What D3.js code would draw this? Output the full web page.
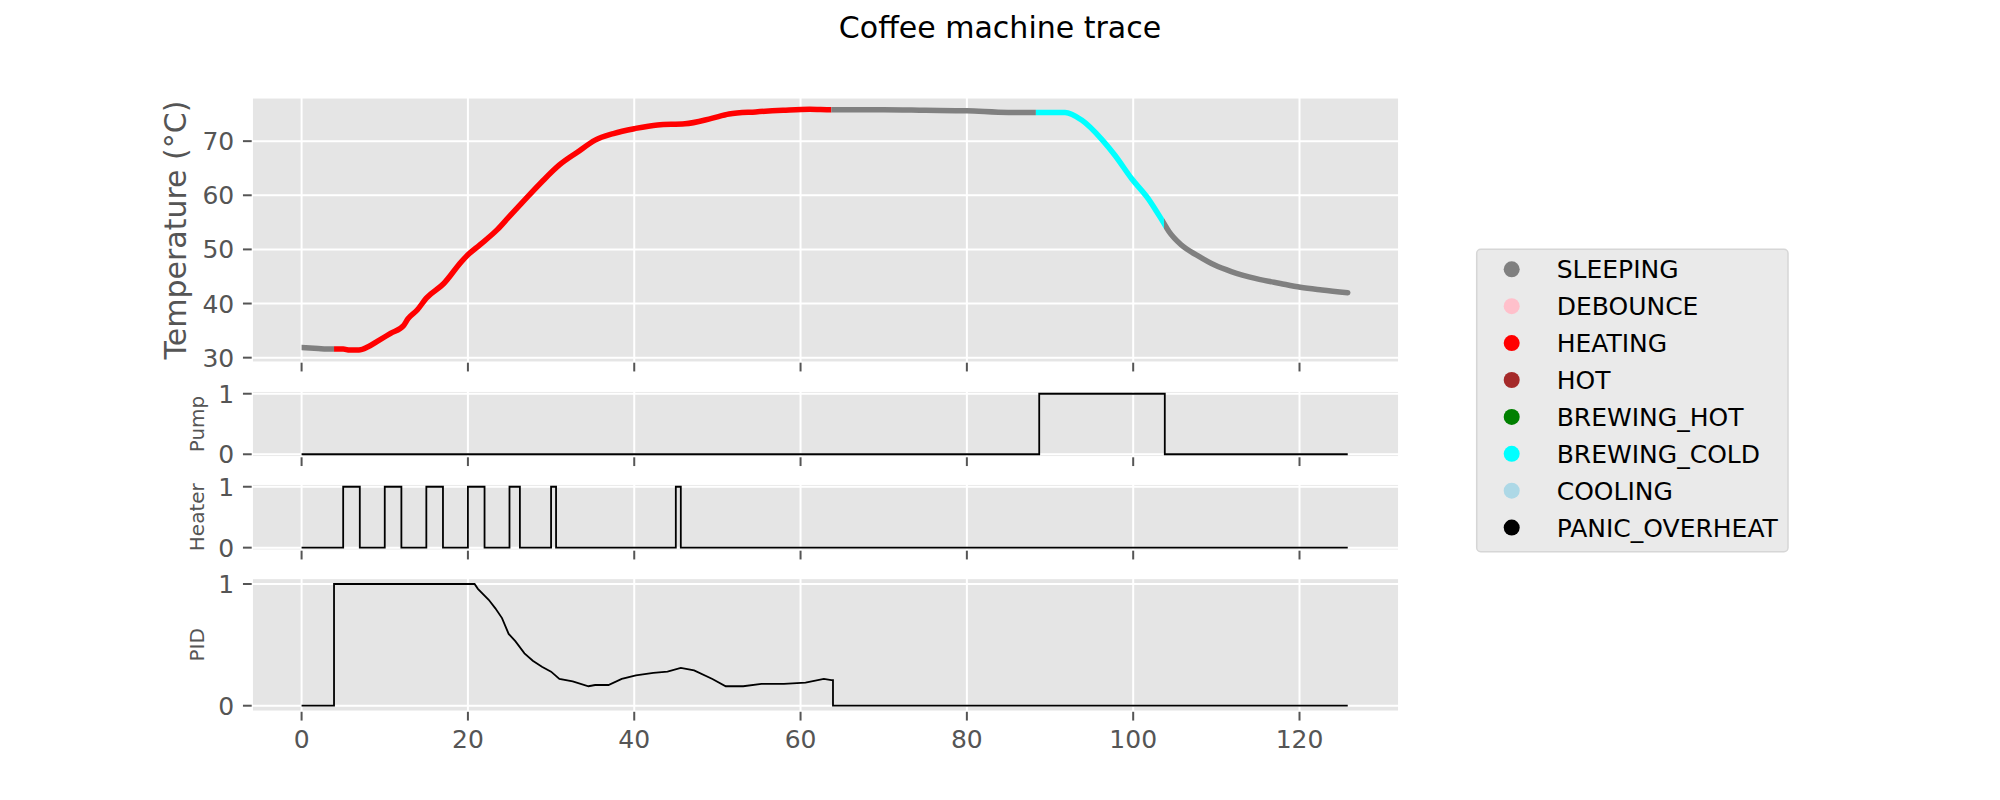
<!DOCTYPE html>
<html>
<head>
<meta charset="utf-8">
<script src="https://cdn.jsdelivr.net/npm/d3@7"></script>
<style>
  body { margin: 0; background: #fff; }
  svg { font-family: "DejaVu Sans", sans-serif; }
</style>
</head>
<body>
<div id="chart"></div>
<script>
const width = 2000,
    height = 800;

// legend states and their colours
const stateNames = ["SLEEPING", "DEBOUNCE", "HEATING", "HOT", "BREWING_HOT", "BREWING_COLD", "COOLING", "PANIC_OVERHEAT"];
const stateColors = ["gray", "pink", "red", "brown", "green", "cyan", "lightblue", "black"];

// state segments of the temperature trace (seconds)
const segStart = [0, 3.9, 63.7, 88.3, 103.7];
const segEnd = [3.9, 63.7, 88.3, 103.7, 125.8];
const segState = ["SLEEPING", "HEATING", "SLEEPING", "BREWING_COLD", "SLEEPING"];

// temperature readings
const tempTime = [0, 1, 2, 3, 3.9, 5, 5.8, 6.9, 8.0, 9.1, 10.7, 12.3, 12.8, 13.9, 15.0, 17.1, 19.2, 20.0, 21.4, 23.5,
  25.1, 26.8, 28.9, 31.0, 33.2, 35.3, 37.5, 40.0, 42.8, 46.1, 49.3, 51.4, 54.6, 57.9, 61.1, 63.7, 70, 75, 80, 85,
  88.3, 91.8, 93.8, 96.3, 97.8, 99.8, 101.8, 103.7, 104.3, 105.8, 107.8, 109.8, 111.8, 114.8, 117.7, 120.1, 122.7, 125.8];
const tempValue = [31.9, 31.8, 31.7, 31.6, 31.6, 31.6, 31.4, 31.4, 32.0, 33.0, 34.5, 36.0, 37.2, 38.8, 41.0, 43.7, 47.7, 49.0, 50.8, 53.6,
  56.3, 59.1, 62.5, 65.6, 68.0, 70.2, 71.4, 72.3, 73.0, 73.2, 74.2, 75.0, 75.4, 75.7, 75.9, 75.8, 75.8, 75.7, 75.6, 75.3,
  75.3, 75.3, 73.9, 70.2, 67.4, 63.1, 59.4, 54.8, 53.3, 50.8, 48.8, 47.1, 45.9, 44.6, 43.7, 43.0, 42.5, 42.0];

// pump on/off
const pumpTime = [0, 88.7, 103.8, 125.8];
const pumpValue = [0, 1, 0, 0];

// heater on/off
const heaterTime = [0, 5, 7, 10, 12, 15, 17, 20, 22, 25, 26.25, 30, 30.6, 45, 45.6, 125.8];
const heaterValue = [0, 1, 0, 1, 0, 1, 0, 1, 0, 1, 0, 1, 0, 1, 0, 0];

// PID output
const pidTime = [0, 3.9, 3.9, 20.8, 21.2, 22.5, 23.3, 24.1, 24.9, 25.7, 26.8, 27.8, 28.9, 30.0, 31.0, 32.6, 34.5, 35.3,
  36.9, 38.5, 40.2, 42.3, 44.0, 45.6, 47.2, 49.4, 51.0, 53.1, 55.3, 58.0, 60.6, 62.8, 63.7, 63.9, 63.9, 125.8];
const pidValue = [0, 0, 1, 1, 0.96, 0.87, 0.80, 0.72, 0.59, 0.53, 0.43, 0.37, 0.32, 0.28, 0.22, 0.20, 0.16, 0.17,
  0.17, 0.22, 0.25, 0.27, 0.28, 0.31, 0.29, 0.22, 0.16, 0.16, 0.18, 0.18, 0.19, 0.22, 0.21, 0.21, 0, 0];

const xTicks = [0, 20, 40, 60, 80, 100, 120];
const tempTicks = [30, 40, 50, 60, 70];
const binTicks = [0, 1];

const left = 251.7, right = 1399.3;
const tickLen = 8.75;

document.addEventListener("DOMContentLoaded", function () {
  const svg = d3.select("#chart")
    .append("svg")
    .attr("width", width)
    .attr("height", height);

  const x = d3.scaleLinear().domain([-6, 132]).range([left, right]);

  const panels = [
    {top: 97.3, bottom: 362.7, domain: [29.07, 78.1], ticks: tempTicks, label: "Temperature (°C)", size: 30, lx: 186},
    {top: 390.7, bottom: 457.3, domain: [-0.05, 1.05], ticks: binTicks, label: "Pump", size: 20, lx: 204},
    {top: 483.7, bottom: 550.7, domain: [-0.05, 1.05], ticks: binTicks, label: "Heater", size: 20, lx: 204},
    {top: 577.9, bottom: 711.8, domain: [-0.05, 1.05], ticks: binTicks, label: "PID", size: 20, lx: 204}
  ];

  svg.append("text")
    .attr("x", 1000)
    .attr("y", 38)
    .attr("text-anchor", "middle")
    .style("font-size", "30px")
    .attr("fill", "black")
    .text("Coffee machine trace");

  panels.forEach(function (p, i) {
    p.y = d3.scaleLinear().domain(p.domain).range([p.bottom, p.top]);
    const g = svg.append("g");

    g.append("rect")
      .attr("x", left).attr("y", p.top)
      .attr("width", right - left).attr("height", p.bottom - p.top)
      .attr("fill", "#E5E5E5");

    // grid
    g.selectAll(".gx").data(xTicks).join("line")
      .attr("x1", d => x(d)).attr("x2", d => x(d))
      .attr("y1", p.top).attr("y2", p.bottom)
      .attr("stroke", "white").attr("stroke-width", 2);
    g.selectAll(".gy").data(p.ticks).join("line")
      .attr("class", "gy")
      .attr("x1", left).attr("x2", right)
      .attr("y1", d => p.y(d)).attr("y2", d => p.y(d))
      .attr("stroke", "white").attr("stroke-width", 2);

    g.append("rect")
      .attr("x", left).attr("y", p.top)
      .attr("width", right - left).attr("height", p.bottom - p.top)
      .attr("fill", "none").attr("stroke", "white").attr("stroke-width", 2.5);

    // x tick marks
    g.selectAll(".tx").data(xTicks).join("line")
      .attr("class", "tx")
      .attr("x1", d => x(d)).attr("x2", d => x(d))
      .attr("y1", p.bottom).attr("y2", p.bottom + tickLen)
      .attr("stroke", "#555555").attr("stroke-width", 2);

    // y ticks
    g.selectAll(".ty").data(p.ticks).join("line")
      .attr("class", "ty")
      .attr("x1", left - tickLen).attr("x2", left)
      .attr("y1", d => p.y(d)).attr("y2", d => p.y(d))
      .attr("stroke", "#555555").attr("stroke-width", 2);
    g.selectAll(".tyl").data(p.ticks).join("text")
      .attr("class", "tyl")
      .attr("x", left - 2 * tickLen)
      .attr("y", d => p.y(d))
      .attr("dy", "0.36em")
      .attr("text-anchor", "end")
      .attr("fill", "#555555")
      .style("font-size", "25px")
      .text(d => d);

    g.append("text")
      .attr("transform", `translate(${p.lx}, ${(p.top + p.bottom) / 2}) rotate(-90)`)
      .attr("text-anchor", "middle")
      .attr("fill", "#555555")
      .style("font-size", p.size + "px")
      .text(p.label);

    if (i == panels.length - 1) {
      g.selectAll(".txl").data(xTicks).join("text")
        .attr("class", "txl")
        .attr("x", d => x(d))
        .attr("y", 748)
        .attr("text-anchor", "middle")
        .attr("fill", "#555555")
        .style("font-size", "25px")
        .text(d => d);
    }
  });

  // temperature trace, coloured by state
  const tp = panels[0];
  const tempData = tempTime.map((t, i) => ({t: t, v: tempValue[i]}));
  const tempLine = d3.line().x(d => x(d.t)).y(d => tp.y(d.v)).curve(d3.curveMonotoneX);
  const defs = svg.append("defs");
  segStart.forEach(function (s, i) {
    defs.append("clipPath").attr("id", "seg" + i)
      .append("rect")
      .attr("x", x(s)).attr("y", tp.top)
      .attr("width", x(segEnd[i]) - x(s) + (i == segStart.length - 1 ? 4 : 0))
      .attr("height", tp.bottom - tp.top);
    svg.append("path")
      .datum(tempData)
      .attr("clip-path", `url(#seg${i})`)
      .attr("fill", "none")
      .attr("stroke", stateColors[stateNames.indexOf(segState[i])])
      .attr("stroke-width", 5.5)
      .attr("stroke-linecap", "round")
      .attr("stroke-linejoin", "round")
      .attr("d", tempLine);
  });

  // binary and PID traces
  const signals = [
    {p: panels[1], t: pumpTime, v: pumpValue, curve: d3.curveStepAfter},
    {p: panels[2], t: heaterTime, v: heaterValue, curve: d3.curveStepAfter},
    {p: panels[3], t: pidTime, v: pidValue, curve: d3.curveLinear}
  ];
  signals.forEach(function (s) {
    const data = s.t.map((t, i) => ({t: t, v: s.v[i]}));
    svg.append("path")
      .datum(data)
      .attr("fill", "none")
      .attr("stroke", "black")
      .attr("stroke-width", 1.8)
      .attr("d", d3.line().x(d => x(d.t)).y(d => s.p.y(d.v)).curve(s.curve));
  });

  // legend
  const legend = svg.append("g").attr("transform", "translate(1476.7, 249.3)");
  legend.append("rect")
    .attr("width", 311.3).attr("height", 302.4)
    .attr("rx", 4)
    .attr("fill", "#EAEAEA")
    .attr("stroke", "#D6D6D6")
    .attr("stroke-width", 1.5);
  const items = legend.selectAll(".item").data(stateNames).join("g")
    .attr("class", "item")
    .attr("transform", (d, i) => `translate(0, ${20 + i * 36.9})`);
  items.append("circle")
    .attr("cx", 35).attr("cy", 0).attr("r", 8)
    .attr("fill", (d, i) => stateColors[i]);
  items.append("text")
    .attr("x", 80).attr("y", 0)
    .attr("dy", "0.36em")
    .attr("fill", "black")
    .style("font-size", "25px")
    .text(d => d);
});
</script>
</body>
</html>
